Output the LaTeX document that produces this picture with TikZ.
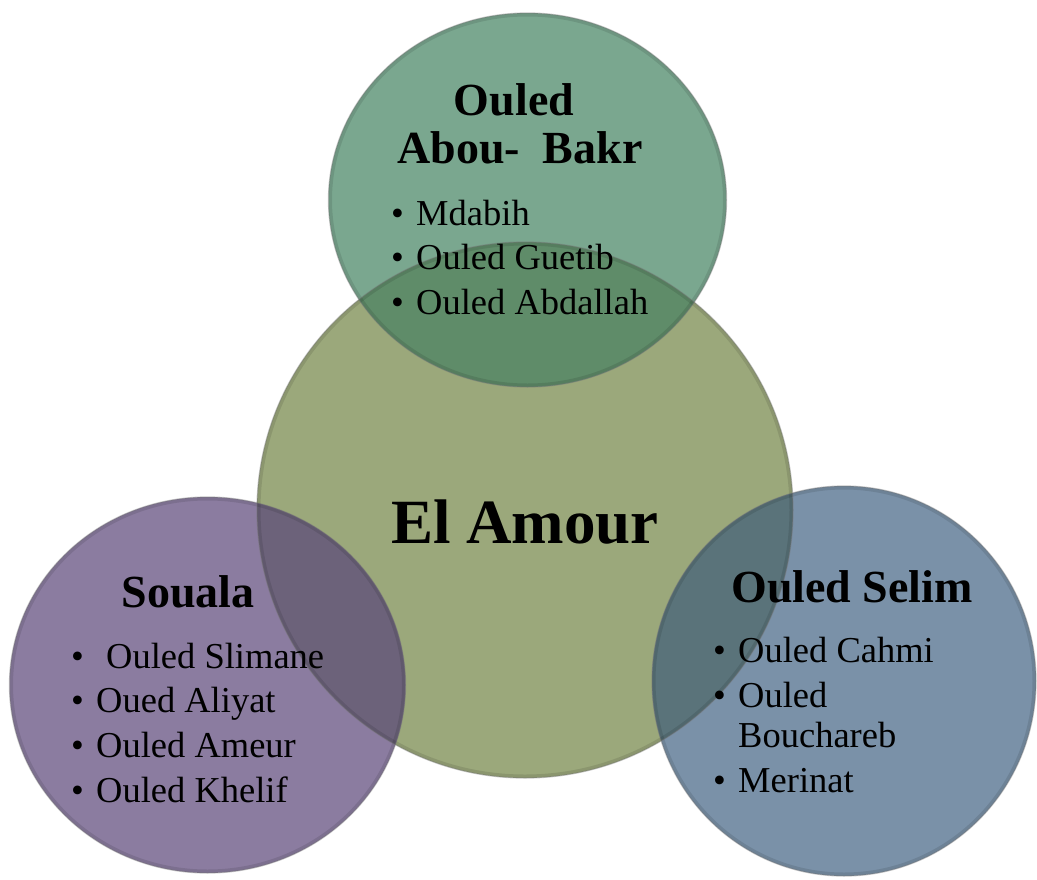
\documentclass[tikz,border=0pt]{standalone}
\usepackage{fontspec}
\setmainfont{Liberation Serif}
\definecolor{cAmour}{HTML}{9BA87B}
\definecolor{cAbou}{HTML}{7AA78F}
\definecolor{cSouala}{HTML}{8B7CA0}
\definecolor{cSelim}{HTML}{7A91A8}
\definecolor{cAbouOv}{HTML}{5F8C69}
\definecolor{cSoualaOv}{HTML}{6C627A}
\definecolor{cSelimOv}{HTML}{5A737A}
\begin{document}
\begin{tikzpicture}[x=1pt,y=-1pt,
  rim/.style={draw=black!55, draw opacity=0.4, line width=1.3pt},
  glow/.style={draw=black, draw opacity=0.10, line width=7pt},
  head/.style={font=\fontsize{46}{48}\selectfont\bfseries, inner sep=0pt, anchor=base},
  item/.style={font=\fontsize{36.5}{44}\selectfont, inner sep=0pt, anchor=base west},
  bul/.style={font=\fontsize{36.5}{44}\selectfont, inner sep=0pt, anchor=base west}]
\useasboundingbox (0,0) rectangle (1037,879);

% circle geometry
\def\amour{(525,510) ellipse [x radius=268, y radius=268]}
\def\abou{(527.5,200) ellipse [x radius=199, y radius=187]}
\def\souala{(207.5,685) ellipse [x radius=198, y radius=188]}
\def\selim{(844,681) ellipse [x radius=192, y radius=195]}

% plain fills
\fill[cAmour] \amour;
\fill[cAbou] \abou;
\fill[cSouala] \souala;
\fill[cSelim] \selim;

% overlaps with the central circle
\begin{scope}
  \clip \amour;
  \fill[cAbouOv] \abou;
  \fill[cSoualaOv] \souala;
  \fill[cSelimOv] \selim;
\end{scope}

% soft inner shadow along each edge
\begin{scope}\clip \amour; \path[glow] \amour; \end{scope}
\begin{scope}\clip \abou; \path[glow] \abou; \end{scope}
\begin{scope}\clip \souala; \path[glow] \souala; \end{scope}
\begin{scope}\clip \selim; \path[glow] \selim; \end{scope}

% soft outlines
\path[rim] \amour;
\path[rim] \abou;
\path[rim] \souala;
\path[rim] \selim;

% central label
\node[font=\fontsize{63}{66}\selectfont\bfseries, inner sep=0pt, anchor=base] (amour) at (525,543) {El Amour};

% Ouled Abou-Bakr
\node[head] (abouA) at (514,115) {Ouled};
\node[head] (abouB) at (520,163) {Abou-\ \ Bakr};
\node[bul] (ab1) at (391,225) {\textbullet};
\node[item] (a1) at (416,225) {Mdabih};
\node[bul] (ab2) at (391,269) {\textbullet};
\node[item] (a2) at (416,269) {Ouled Guetib};
\node[bul] (ab3) at (391,314) {\textbullet};
\node[item] (a3) at (416,314) {Ouled Abdallah};

% Souala
\node[head] (souala) at (188,607) {Souala};
\node[bul] (sb1) at (71,668) {\textbullet};
\node[item] (s1) at (106,668) {Ouled Slimane};
\node[bul] (sb2) at (71,712) {\textbullet};
\node[item] (s2) at (96,712) {Oued Aliyat};
\node[bul] (sb3) at (71,757) {\textbullet};
\node[item] (s3) at (96,757) {Ouled Ameur};
\node[bul] (sb4) at (71,802) {\textbullet};
\node[item] (s4) at (96,802) {Ouled Khelif};

% Ouled Selim
\node[head] (selim) at (852,602) {Ouled Selim};
\node[bul] (lb1) at (713,662) {\textbullet};
\node[item] (l1) at (738,662) {Ouled Cahmi};
\node[bul] (lb2) at (713,707) {\textbullet};
\node[item] (l2) at (738,707) {Ouled};
\node[item] (l2b) at (738,747) {Bouchareb};
\node[bul] (lb3) at (713,792) {\textbullet};
\node[item] (l3) at (738,792) {Merinat};
\end{tikzpicture}
\end{document}
